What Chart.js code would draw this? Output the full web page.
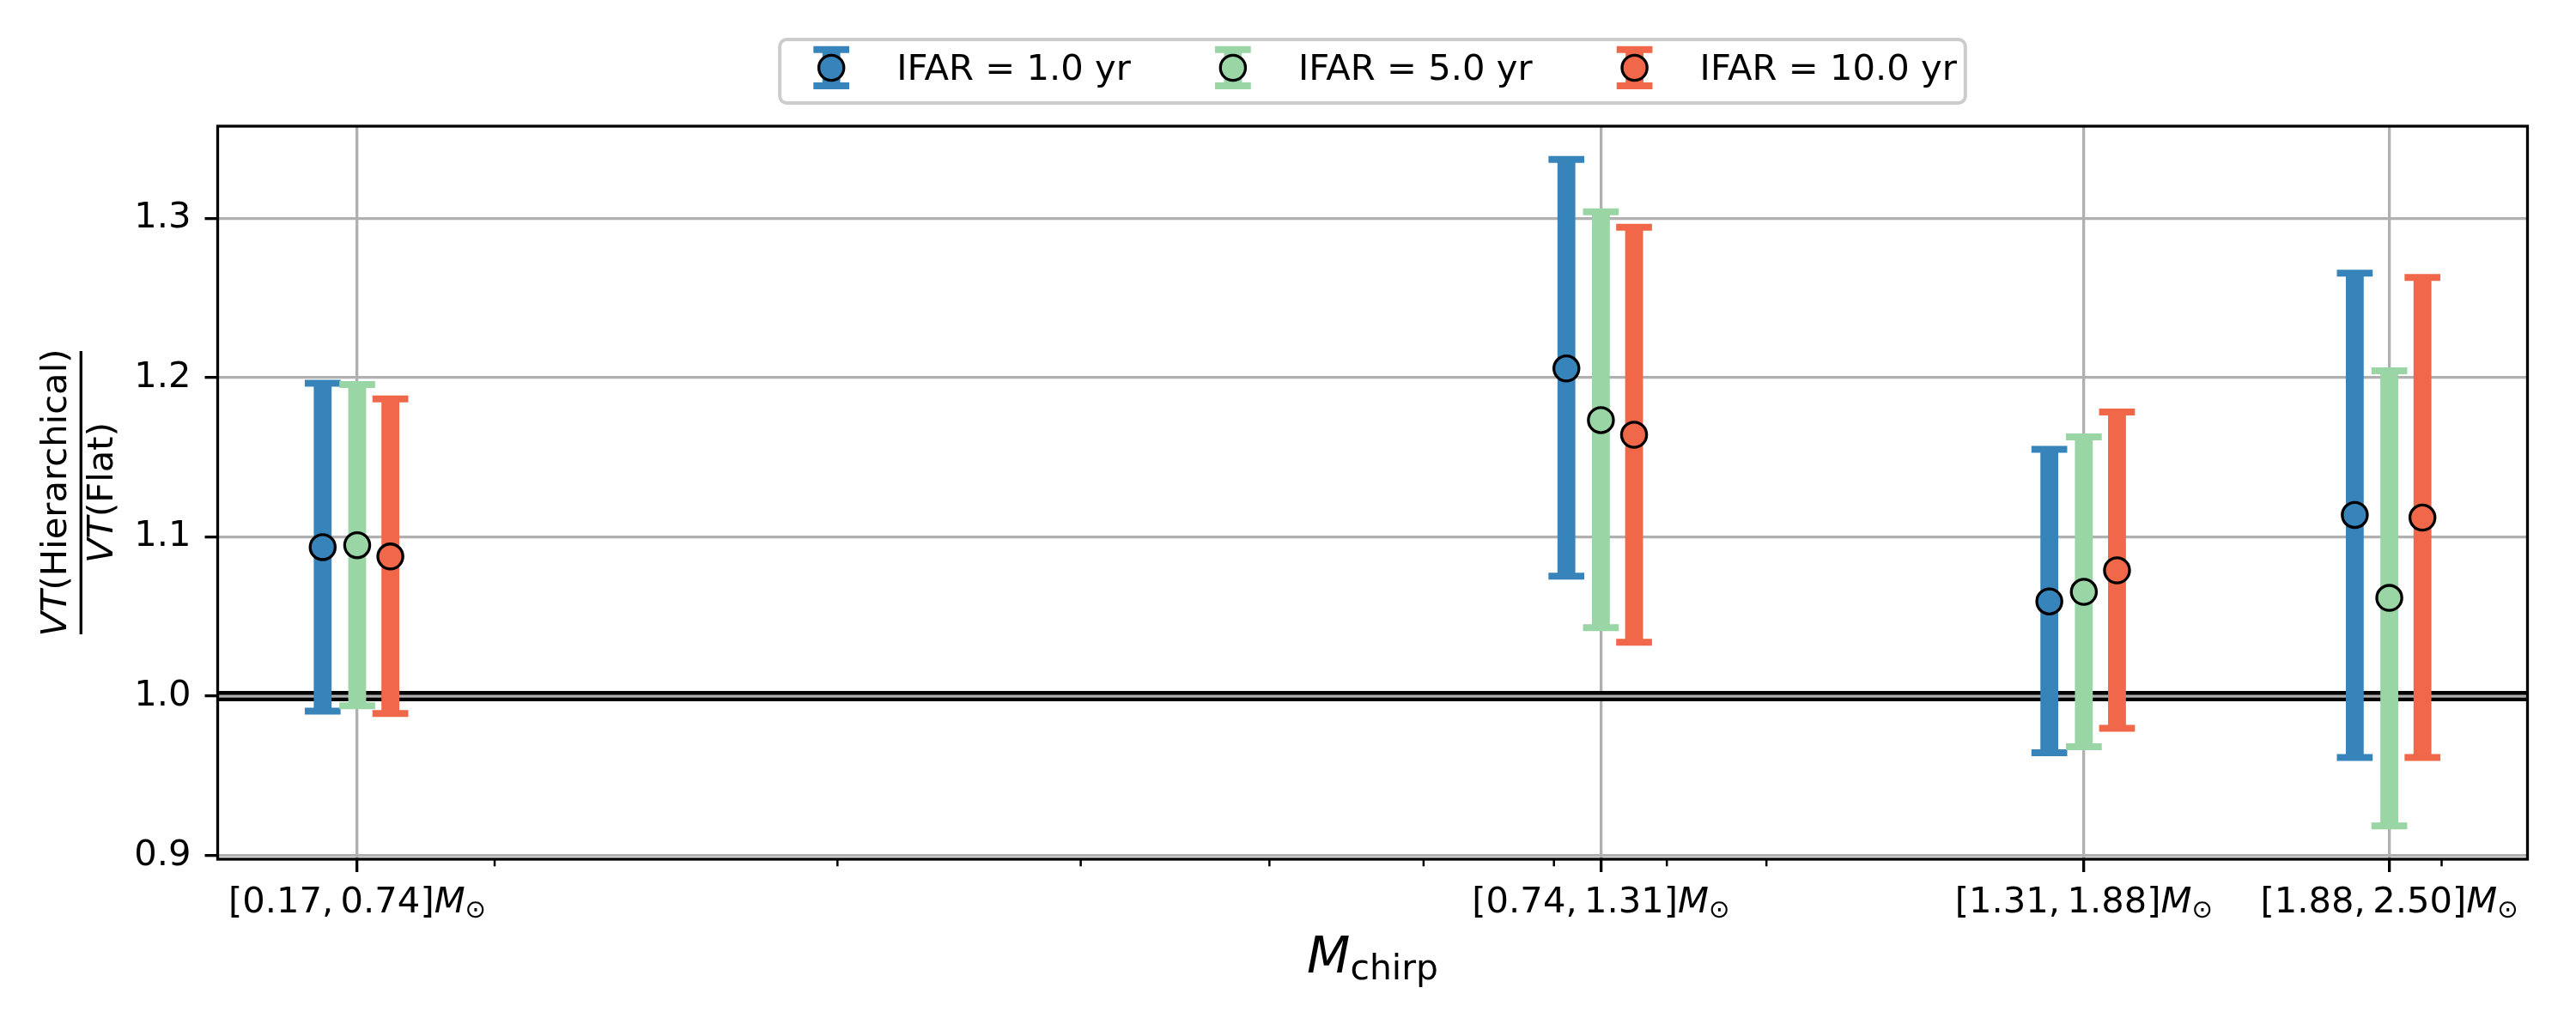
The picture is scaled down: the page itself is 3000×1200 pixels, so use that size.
<!DOCTYPE html>
<html>
<head>
<meta charset="utf-8">
<script src="https://cdn.jsdelivr.net/npm/chart.js@4.4.0/dist/chart.umd.min.js"></script>
<style>
html,body{margin:0;padding:0;background:#fff;}
canvas{display:block;}
</style>
</head>
<body>
<canvas id="c" width="3000" height="1200"></canvas>
<script>
// ---------- data ----------
const binLow = [0.17, 0.74, 1.31, 1.88];
const xTickLabels = ['[0.17, 0.74]', '[0.74, 1.31]', '[1.31, 1.88]', '[1.88, 2.50]'];
const xMinorTicks = [0.2, 0.3, 0.4, 0.5, 0.6, 0.7, 0.8, 0.9, 2];
const yTicks = [0.9, 1.0, 1.1, 1.2, 1.3];
const yTickLabels = ['0.9', '1.0', '1.1', '1.2', '1.3'];
const seriesLabels = ['IFAR = 1.0 yr', 'IFAR = 5.0 yr', 'IFAR = 10.0 yr'];

const ifar1Mid = [1.0936, 1.2057, 1.0595, 1.1138];
const ifar1Lo  = [0.9907, 1.0754, 0.9645, 0.9616];
const ifar1Hi  = [1.1964, 1.3369, 1.1549, 1.2655];

const ifar5Mid = [1.0948, 1.1733, 1.0655, 1.0617];
const ifar5Lo  = [0.9940, 1.0430, 0.9683, 0.9186];
const ifar5Hi  = [1.1957, 1.3040, 1.1628, 1.2043];

const ifar10Mid = [1.0877, 1.1641, 1.0790, 1.1121];
const ifar10Lo  = [0.9892, 1.0339, 0.9798, 0.9616];
const ifar10Hi  = [1.1866, 1.2944, 1.1784, 1.2629];

const refValue = 1.0;

// ---------- style ----------
const colors = ['#3784bb', '#99d5a5', '#f06749'];
const dodge = [0.96, 1.0, 1.04];
const FONT = '"DejaVu Sans", "Liberation Sans", sans-serif';
const FS = 41.7;
const GRID = '#b0b0b0';

const seriesMid = [ifar1Mid, ifar5Mid, ifar10Mid];
const seriesLo = [ifar1Lo, ifar5Lo, ifar10Lo];
const seriesHi = [ifar1Hi, ifar5Hi, ifar10Hi];

const datasets = seriesLabels.map((lab, s) => ({
  label: lab,
  data: binLow.map((xv, i) => ({x: xv * dodge[s], y: seriesMid[s][i]})),
  pointRadius: 14.6,
  pointHoverRadius: 14.6,
  pointBorderWidth: 3.3,
  pointBorderColor: '#000',
  pointBackgroundColor: colors[s],
  showLine: false
}));

function seg(ctx, x1, y1, x2, y2) {
  ctx.beginPath(); ctx.moveTo(x1, y1); ctx.lineTo(x2, y2); ctx.stroke();
}

function drawRich(ctx, parts, cx, baseline, align) {
  // parts: {t, font, dy}
  let total = 0;
  parts.forEach(p => { ctx.font = p.font; p.w = ctx.measureText(p.t).width; total += p.w; });
  let x = align === 'left' ? cx : cx - total / 2;
  ctx.textAlign = 'left';
  ctx.textBaseline = 'alphabetic';
  parts.forEach(p => { ctx.font = p.font; ctx.fillText(p.t, x, baseline + (p.dy || 0)); x += p.w; });
  return total;
}

function drawErrorBar(ctx, px, yl, yh, color) {
  ctx.strokeStyle = color;
  ctx.lineCap = 'butt';
  ctx.lineWidth = 20.8;
  seg(ctx, px, yl, px, yh);
  ctx.lineWidth = 8;
  seg(ctx, px - 20.85, yl, px + 20.85, yl);
  seg(ctx, px - 20.85, yh, px + 20.85, yh);
}

function drawMarker(ctx, px, py, color) {
  ctx.beginPath();
  ctx.arc(px, py, 14.6, 0, Math.PI * 2);
  ctx.fillStyle = color; ctx.fill();
  ctx.lineWidth = 3.3; ctx.strokeStyle = '#000'; ctx.stroke();
}

const decor = {
  id: 'decor',
  beforeDatasetsDraw(chart) {
    const {ctx, chartArea: a, scales: {x, y}} = chart;
    ctx.save();
    ctx.beginPath(); ctx.rect(a.left, a.top, a.right - a.left, a.bottom - a.top); ctx.clip();
    const y1 = y.getPixelForValue(refValue);
    ctx.strokeStyle = '#000'; ctx.lineWidth = 12;
    seg(ctx, a.left, y1, a.right, y1);
    ctx.strokeStyle = GRID; ctx.lineWidth = 3.3;
    seg(ctx, a.left, y1, a.right, y1);
    seriesLo.forEach((lo, s) => {
      lo.forEach((lv, i) => {
        const px = x.getPixelForValue(binLow[i] * dodge[s]);
        drawErrorBar(ctx, px, y.getPixelForValue(lv), y.getPixelForValue(seriesHi[s][i]), colors[s]);
      });
    });
    ctx.restore();
  },
  afterDraw(chart) {
    const {ctx, chartArea: a, scales: {x, y}} = chart;
    ctx.save();
    // frame
    ctx.strokeStyle = '#000'; ctx.lineWidth = 3.3;
    ctx.strokeRect(a.left, a.top, a.right - a.left, a.bottom - a.top);
    // minor ticks
    ctx.lineWidth = 2.5;
    xMinorTicks.forEach(v => {
      const px = x.getPixelForValue(v);
      seg(ctx, px, a.bottom, px, a.bottom + 8.3);
    });
    // x tick labels
    ctx.fillStyle = '#000';
    xTickLabels.forEach((lab, i) => {
      const px = x.getPixelForValue(binLow[i]);
      drawRich(ctx, [
        {t: lab.replace(', ', ',\u2009'), font: FS + 'px ' + FONT},
        {t: 'M', font: 'italic ' + FS + 'px ' + FONT},
        {t: '\u2299', font: (FS * 0.7) + 'px ' + FONT, dy: 6}
      ], px, a.bottom + 62);
    });
    // x title
    const cxp = (a.left + a.right) / 2;
    drawRich(ctx, [
      {t: 'M', font: 'italic 58.4px ' + FONT},
      {t: 'chirp', font: '40.9px ' + FONT, dy: 8}
    ], cxp, 1133);
    // y title (fraction)
    const cyp = (a.top + a.bottom) / 2;
    ctx.save();
    ctx.translate(94.3, cyp);
    ctx.rotate(-Math.PI / 2);
    drawRich(ctx, [
      {t: 'VT', font: 'italic ' + FS + 'px ' + FONT},
      {t: '(Hierarchical)', font: FS + 'px ' + FONT}
    ], 0, -17.8);
    drawRich(ctx, [
      {t: 'VT', font: 'italic ' + FS + 'px ' + FONT},
      {t: '(Flat)', font: FS + 'px ' + FONT}
    ], 0, 36.7);
    ctx.lineWidth = 3.3; ctx.strokeStyle = '#000';
    seg(ctx, -165, 0, 165, 0);
    ctx.restore();
    // legend
    ctx.font = FS + 'px ' + FONT;
    const widths = seriesLabels.map(l => ctx.measureText(l).width);
    const handleToText = 76, gapAfter = 119, padL = 60, padR = 10;
    let total = padL + padR;
    widths.forEach((w, s) => { total += handleToText + w + (s < widths.length - 1 ? gapAfter : 0); });
    const bx = cxp - total / 2, by = 46, bh = 74;
    ctx.beginPath();
    ctx.roundRect(bx, by, total, bh, 8);
    ctx.fillStyle = 'rgba(255,255,255,0.8)'; ctx.fill();
    ctx.lineWidth = 4; ctx.strokeStyle = '#cccccc'; ctx.stroke();
    let hx = bx + padL;
    seriesLabels.forEach((lab, s) => {
      drawErrorBar(ctx, hx, 100, 57.8, colors[s]);
      drawMarker(ctx, hx, 79, colors[s]);
      ctx.fillStyle = '#000';
      ctx.font = FS + 'px ' + FONT;
      ctx.textAlign = 'left'; ctx.textBaseline = 'alphabetic';
      ctx.fillText(lab, hx + handleToText, 93);
      hx += handleToText + widths[s] + gapAfter;
    });
    ctx.restore();
  }
};

new Chart(document.getElementById('c').getContext('2d'), {
  type: 'scatter',
  data: {datasets},
  options: {
    responsive: false,
    animation: false,
    devicePixelRatio: 1,
    layout: {padding: {left: 0, top: 147, right: 56.5, bottom: 0}},
    plugins: {legend: {display: false}, tooltip: {enabled: false}},
    scales: {
      x: {
        type: 'logarithmic',
        min: 0.14414, max: 2.21376,
        afterBuildTicks: s => { s.ticks = binLow.map(v => ({value: v})); },
        afterFit: s => { s.height = 199; },
        ticks: {display: false},
        grid: {color: GRID, lineWidth: 3.3, drawTicks: true, tickLength: 15, tickColor: '#000', tickWidth: 3.3},
        border: {display: false}
      },
      y: {
        type: 'linear',
        min: 0.8977, max: 1.3578,
        afterBuildTicks: s => { s.ticks = yTicks.map(v => ({value: v})); },
        afterFit: s => { s.width = 253.5; },
        ticks: {
          callback: (v) => yTickLabels[yTicks.indexOf(v)],
          font: {family: FONT, size: FS},
          color: '#000',
          padding: 16
        },
        grid: {color: GRID, lineWidth: 3.3, drawTicks: true, tickLength: 15, tickColor: '#000', tickWidth: 3.3},
        border: {display: false}
      }
    }
  },
  plugins: [decor]
});
</script>
</body>
</html>
